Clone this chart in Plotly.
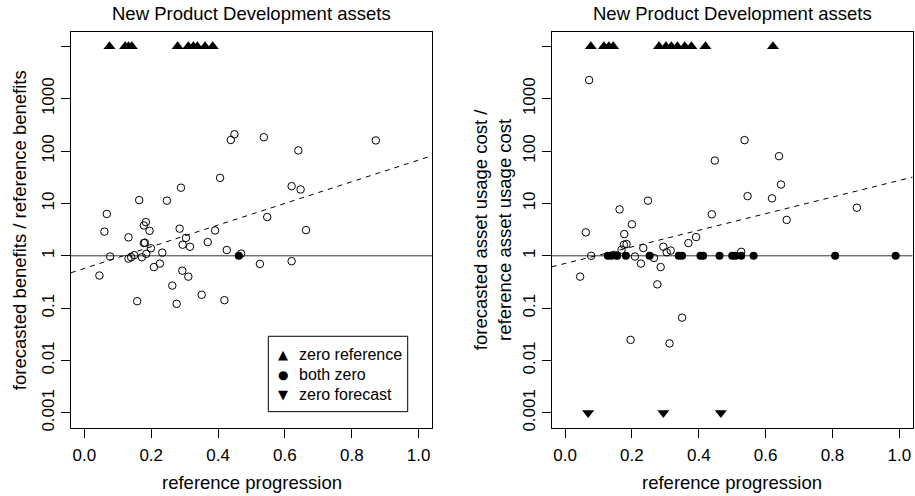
import plotly.graph_objects as go

# ---- data: New Product Development assets ----
# Left panel: forecasted benefits / reference benefits
left_open_x = [0.406, 0.289, 0.164, 0.247, 0.067, 0.060, 0.184, 0.178, 0.195, 0.132,
               0.178, 0.181, 0.199, 0.285, 0.304, 0.294, 0.316, 0.391, 0.369, 0.426,
               0.077, 0.132, 0.140, 0.149, 0.172, 0.185, 0.233, 0.045, 0.208, 0.226,
               0.263, 0.293, 0.311, 0.158, 0.276, 0.351, 0.419, 0.469, 0.525, 0.620,
               0.647, 0.547, 0.663, 0.620, 0.537, 0.640, 0.872, 0.449, 0.438]
left_open_y = [30.8, 20.0, 11.6, 11.3, 6.3, 2.9, 4.4, 3.8, 3.0, 2.25,
               1.75, 1.78, 1.39, 3.3, 2.2, 1.63, 1.49, 3.05, 1.83, 1.29,
               0.97, 0.885, 0.94, 1.03, 0.94, 1.09, 1.15, 0.42, 0.61, 0.71,
               0.27, 0.52, 0.40, 0.136, 0.121, 0.18, 0.142, 1.1, 0.70, 21.4,
               18.5, 5.5, 3.1, 0.79, 184, 103, 160, 210, 163]
left_zero_ref_x = [0.075, 0.122, 0.132, 0.142, 0.279, 0.311, 0.326, 0.338, 0.361, 0.384]
left_both_zero_x = [0.462]
left_fit = (-0.241, 2.07)   # log10(ratio) = a + b * progression

# Right panel: forecasted / reference asset usage cost
right_open_x = [0.072, 0.448, 0.537, 0.640, 0.646, 0.546, 0.619, 0.439, 0.663, 0.873,
                0.527, 0.045, 0.062, 0.078, 0.163, 0.248, 0.200, 0.177, 0.184, 0.176,
                0.169, 0.234, 0.209, 0.227, 0.266, 0.286, 0.276, 0.294, 0.304, 0.316,
                0.369, 0.392, 0.350, 0.196, 0.3125, 0.152]
right_open_y = [2270, 66, 162, 80, 23, 13.8, 12.5, 6.2, 4.85, 8.3,
                1.19, 0.40, 2.8, 1.0, 7.7, 11.3, 4.0, 2.6, 1.68, 1.63,
                1.31, 1.41, 0.97, 0.71, 0.91, 0.61, 0.285, 1.49, 1.17, 1.26,
                1.75, 2.28, 0.066, 0.0248, 0.0212, 1.02]
right_zero_ref_x = [0.077, 0.116, 0.131, 0.144, 0.281, 0.302, 0.318, 0.336, 0.358,
                    0.378, 0.420, 0.622]
right_both_zero_x = [0.128, 0.139, 0.156, 0.182, 0.253, 0.340, 0.350, 0.405, 0.413,
                     0.462, 0.500, 0.510, 0.527, 0.564, 0.808, 0.989]
right_zero_fc_x = [0.069, 0.294, 0.466]
right_fit = (-0.147, 1.587)

# placement values for the special cases
ZERO_REF_Y = 1e4
BOTH_ZERO_Y = 1.0
ZERO_FC_Y = 1e-3

x_ticks = [0.0, 0.2, 0.4, 0.6, 0.8, 1.0]
x_tick_text = ["0.0", "0.2", "0.4", "0.6", "0.8", "1.0"]
y_ticks = [1e-3, 1e-2, 1e-1, 1, 10, 100, 1000, 1e4]
y_tick_text = ["0.001", "0.01", "0.1", "1", "10", "100", "1000", ""]

title_text = "New Product Development assets"
x_title = "reference progression"
left_y_title = "forecasted benefits / reference benefits"
right_y_title = "forecasted asset usage cost /<br>reference asset usage cost"
legend_labels = ["zero reference", "both zero", "zero forecast"]
legend_glyphs = ["\u25B2", "\u25CF", "\u25BC"]

# ---- layout geometry ----
W, H = 915, 496
FONT = "Liberation Sans, Arial, Helvetica, sans-serif"
X_RANGE = [-0.04, 1.04]
Y_RANGE = [-3.28, 4.28]
left_dom = [71 / W, 432 / W]
right_dom = [551.7 / W, 912.7 / W]
y_dom = [1 - 431 / H, 1 - 32 / H]

fig = go.Figure()

open_marker = dict(symbol="circle-open", size=7.5, color="black", line=dict(width=1, color="black"))
filled_marker = dict(symbol="circle", size=8, color="black")
up_marker = dict(symbol="triangle-up", size=10.5, color="black")
down_marker = dict(symbol="triangle-down", size=10.5, color="black")


def add_panel(xa, ya, ox, oy, zref, bzero, fit, zfc=None):
    # reference line at ratio 1
    fig.add_trace(go.Scatter(x=X_RANGE, y=[1, 1], mode="lines", xaxis=xa, yaxis=ya,
                             line=dict(color="#333", width=1), hoverinfo="skip"))
    # fitted trend (dashed)
    a, b = fit
    fig.add_trace(go.Scatter(x=X_RANGE, y=[10 ** (a + b * x) for x in X_RANGE],
                             mode="lines", xaxis=xa, yaxis=ya,
                             line=dict(color="black", width=1, dash="5px,5px"),
                             hoverinfo="skip"))
    fig.add_trace(go.Scatter(x=ox, y=oy, mode="markers", xaxis=xa, yaxis=ya,
                             marker=open_marker))
    fig.add_trace(go.Scatter(x=zref, y=[ZERO_REF_Y] * len(zref), mode="markers",
                             xaxis=xa, yaxis=ya, marker=up_marker, name="zero reference"))
    fig.add_trace(go.Scatter(x=bzero, y=[BOTH_ZERO_Y] * len(bzero), mode="markers",
                             xaxis=xa, yaxis=ya, marker=filled_marker, name="both zero"))
    if zfc is not None:
        fig.add_trace(go.Scatter(x=zfc, y=[ZERO_FC_Y] * len(zfc), mode="markers",
                                 xaxis=xa, yaxis=ya, marker=down_marker,
                                 name="zero forecast"))


add_panel("x", "y", left_open_x, left_open_y, left_zero_ref_x, left_both_zero_x, left_fit)
add_panel("x2", "y2", right_open_x, right_open_y, right_zero_ref_x, right_both_zero_x,
          right_fit, zfc=right_zero_fc_x)

xaxis_common = dict(range=X_RANGE, tickvals=x_ticks, ticktext=x_tick_text,
                    ticks="outside", ticklen=9, tickcolor="black", tickwidth=1,
                    ticklabelstandoff=3,
                    showline=True, mirror=True, linecolor="black", linewidth=1,
                    showgrid=False, zeroline=False,
                    tickfont=dict(size=17, color="black", family=FONT))
yaxis_common = dict(type="log", range=Y_RANGE, tickvals=y_ticks, ticktext=y_tick_text,
                    tickangle=-90, ticks="outside", ticklen=9, tickcolor="black",
                    tickwidth=1, showline=True, mirror=True, linecolor="black",
                    linewidth=1, showgrid=False, zeroline=False, domain=y_dom,
                    tickfont=dict(size=17, color="black", family=FONT))

fig.update_layout(
    width=W, height=H,
    margin=dict(l=0, r=0, t=0, b=0),
    paper_bgcolor="white", plot_bgcolor="white",
    font=dict(family=FONT, color="black"),
    xaxis=dict(domain=left_dom, anchor="y", **xaxis_common),
    yaxis=dict(anchor="x", **yaxis_common),
    xaxis2=dict(domain=right_dom, anchor="y2", **xaxis_common),
    yaxis2=dict(anchor="x2", **yaxis_common),
    showlegend=False,
)

annots = []
for dom in (left_dom, right_dom):
    cx = (dom[0] + dom[1]) / 2
    annots.append(dict(text=title_text, x=cx, y=1 - 14 / H, xref="paper", yref="paper",
                       showarrow=False, xanchor="center", yanchor="middle",
                       font=dict(size=18.5, color="black", family=FONT)))
    annots.append(dict(text=x_title, x=cx, y=1 - 486 / H, xref="paper", yref="paper",
                       showarrow=False, xanchor="center", yanchor="middle",
                       font=dict(size=18.5, color="black", family=FONT)))
ymid = 1 - 232 / H
annots.append(dict(text=left_y_title, x=19 / W, y=ymid, xref="paper", yref="paper",
                   showarrow=False, textangle=-90, xanchor="center", yanchor="middle",
                   font=dict(size=18.5, color="black", family=FONT)))
annots.append(dict(text=right_y_title, x=492 / W, y=ymid, xref="paper", yref="paper",
                   showarrow=False, textangle=-90, xanchor="center", yanchor="middle",
                   font=dict(size=18.5, color="black", family=FONT)))

# key box inside the left panel
LEG_X0, LEG_X1, LEG_Y0, LEG_Y1 = 268.3, 407.7, 339, 415
leg_rows = [357.7, 377.7, 397.5]
glyph_sizes = [13, 12, 13]
for glyph, label, ry, gs in zip(legend_glyphs, legend_labels, leg_rows, glyph_sizes):
    annots.append(dict(text=glyph, x=282.7 / W, y=1 - ry / H, xref="paper", yref="paper",
                       showarrow=False, xanchor="center", yanchor="middle",
                       font=dict(size=gs, color="black", family="DejaVu Sans")))
    annots.append(dict(text=label, x=297 / W, y=1 - ry / H, xref="paper", yref="paper",
                       showarrow=False, xanchor="left", yanchor="middle",
                       font=dict(size=16, color="black", family=FONT)))
fig.update_layout(
    annotations=annots,
    shapes=[dict(type="rect", xref="paper", yref="paper",
                 x0=LEG_X0 / W, x1=LEG_X1 / W, y0=1 - LEG_Y1 / H, y1=1 - LEG_Y0 / H,
                 line=dict(color="black", width=1), fillcolor="white", layer="above")],
)

fig.write_html("out.html")
